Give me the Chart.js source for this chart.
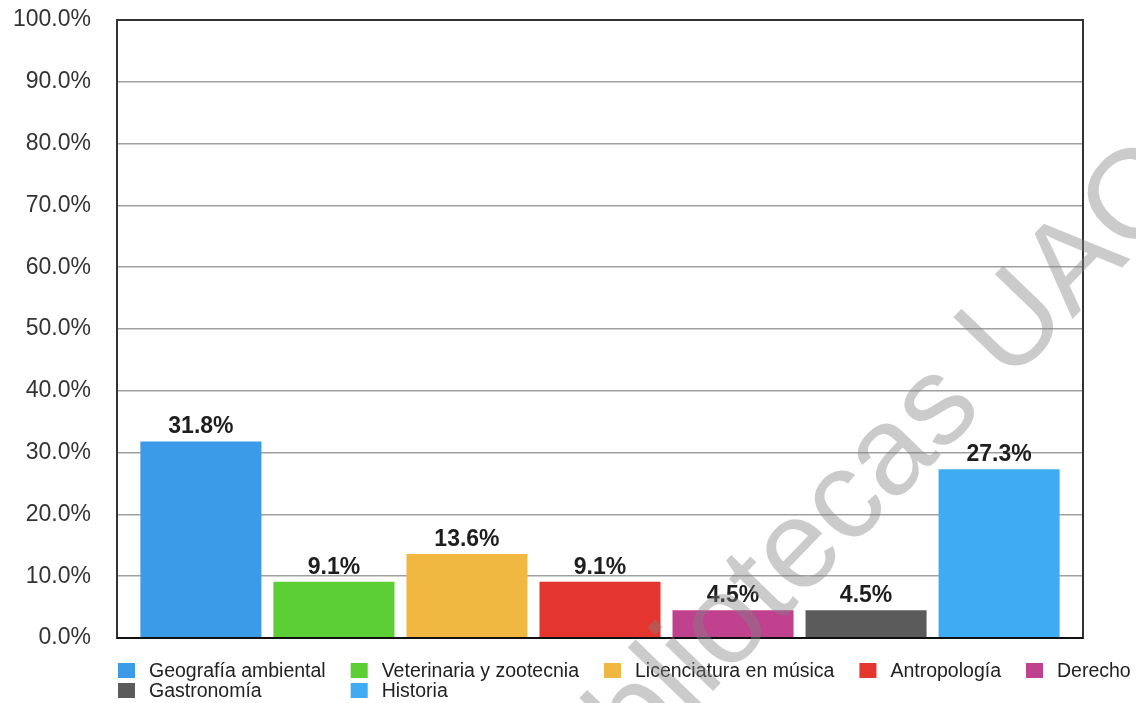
<!DOCTYPE html>
<html>
<head>
<meta charset="utf-8">
<script src="https://cdn.jsdelivr.net/npm/chart.js@4/dist/chart.umd.min.js"></script>
<style>
  html, body { margin: 0; padding: 0; background: #fff; }
  #wrap { width: 1136px; height: 703px; position: relative; }
</style>
</head>
<body>
<div id="wrap"><canvas id="chart-carreras"></canvas></div>
<script>
var carreras = [
    'Geografía ambiental',
    'Veterinaria y zootecnia',
    'Licenciatura en música',
    'Antropología',
    'Derecho',
    'Gastronomía',
    'Historia'
];
var porcentajes = [31.8, 9.1, 13.6, 9.1, 4.5, 4.5, 27.3];
var colores = ['#3b9be9', '#5ccf34', '#f0b840', '#e5352f', '#c0418d', '#5b5b5b', '#3eabf2'];
var marcaAgua = 'Bibliotecas UAQ';

var fuente = '"Liberation Sans", Arial, sans-serif';

var datasets = carreras.map(function(nombre, i) {
    return {
        label: nombre,
        data: [porcentajes[i]],
        backgroundColor: colores[i],
        borderWidth: 0,
        categoryPercentage: 0.964,
        barPercentage: 0.91
    };
});

// value above each bar
var etiquetas = {
    id: 'etiquetas',
    afterDatasetsDraw: function(chart) {
        var ctx = chart.ctx;
        ctx.save();
        ctx.font = 'bold 23px ' + fuente;
        ctx.fillStyle = '#1e1e1e';
        ctx.textAlign = 'center';
        ctx.textBaseline = 'alphabetic';
        chart.data.datasets.forEach(function(ds, i) {
            var bar = chart.getDatasetMeta(i).data[0];
            ctx.fillText(ds.data[0].toFixed(1) + '%', bar.x, bar.y - 8);
        });
        ctx.restore();
    }
};

// frame round the plot area
var marco = {
    id: 'marco',
    afterDatasetsDraw: function(chart) {
        var a = chart.chartArea, ctx = chart.ctx;
        ctx.save();
        ctx.strokeStyle = '#333';
        ctx.lineWidth = 2;
        ctx.strokeRect(a.left, a.top, a.right - a.left, a.bottom - a.top);
        ctx.strokeStyle = '#111';
        ctx.beginPath();
        ctx.moveTo(a.left, a.bottom);
        ctx.lineTo(a.right, a.bottom);
        ctx.stroke();
        ctx.restore();
    }
};

// legend in columns under the plot
var leyenda = {
    id: 'leyenda',
    afterDraw: function(chart) {
        var ctx = chart.ctx;
        var x0 = chart.chartArea.left + 1, y0 = 671, filaAlto = 20;
        var caja = 17, texto = 31, hueco = 25;
        ctx.save();
        ctx.font = '19.5px ' + fuente;
        var anchos = chart.data.datasets.map(function(ds) {
            return texto + ctx.measureText(ds.label).width + hueco;
        });
        // how many fit on the first row
        var porFila = 0, suma = 0;
        while (porFila < anchos.length && suma + anchos[porFila] - hueco <= chart.width - x0 + 4) {
            suma += anchos[porFila];
            porFila++;
        }
        var cols = [];
        anchos.forEach(function(w, i) {
            var c = i % porFila;
            cols[c] = Math.max(cols[c] || 0, w);
        });
        ctx.textBaseline = 'middle';
        chart.data.datasets.forEach(function(ds, i) {
            var c = i % porFila, f = Math.floor(i / porFila);
            var x = x0;
            for (var k = 0; k < c; k++) x += cols[k];
            var y = y0 + f * filaAlto;
            ctx.fillStyle = ds.backgroundColor;
            ctx.fillRect(x, y - 8, caja, 15);
            ctx.fillStyle = '#222';
            ctx.fillText(ds.label, x + texto, y + 1);
        });
        ctx.restore();
    }
};

var sello = {
    id: 'sello',
    afterDraw: function(chart) {
        var ctx = chart.ctx;
        ctx.save();
        ctx.translate(855, 494);
        ctx.rotate(-46 * Math.PI / 180);
        ctx.font = '126px ' + fuente;
        ctx.fillStyle = 'rgba(130,130,130,0.42)';
        ctx.textAlign = 'center';
        ctx.textBaseline = 'middle';
        ctx.fillText(marcaAgua, 0, 0);
        ctx.restore();
    }
};

var config = {
    type: 'bar',
    data: {
        labels: [''],
        datasets: datasets
    },
    options: {
        responsive: true,
        maintainAspectRatio: false,
        animation: false,
        layout: {
            padding: { top: 20, right: 53, bottom: 65, left: 0 }
        },
        plugins: {
            legend: { display: false },
            tooltip: { enabled: false }
        },
        scales: {
            x: {
                grid: { display: false },
                ticks: { display: false },
                border: { display: false },
                afterFit: function(s) { s.height = 0; }
            },
            y: {
                min: 0,
                max: 100,
                ticks: {
                    stepSize: 10,
                    padding: 26,
                    color: '#333',
                    font: { family: fuente, size: 23 },
                    callback: function(v) { return v.toFixed(1) + '%'; }
                },
                grid: { color: '#a0a0a0', lineWidth: 1.5, drawTicks: false },
                border: { display: false },
                afterFit: function(s) {
                    s.width = 117;
                    s.paddingTop = 0;
                    s.paddingBottom = 0;
                }
            }
        }
    },
    plugins: [etiquetas, marco, leyenda, sello]
};

window.onload = function() {
    var ctx = document.getElementById('chart-carreras').getContext('2d');
    window.graficaCarreras = new Chart(ctx, config);
};
</script>
</body>
</html>
